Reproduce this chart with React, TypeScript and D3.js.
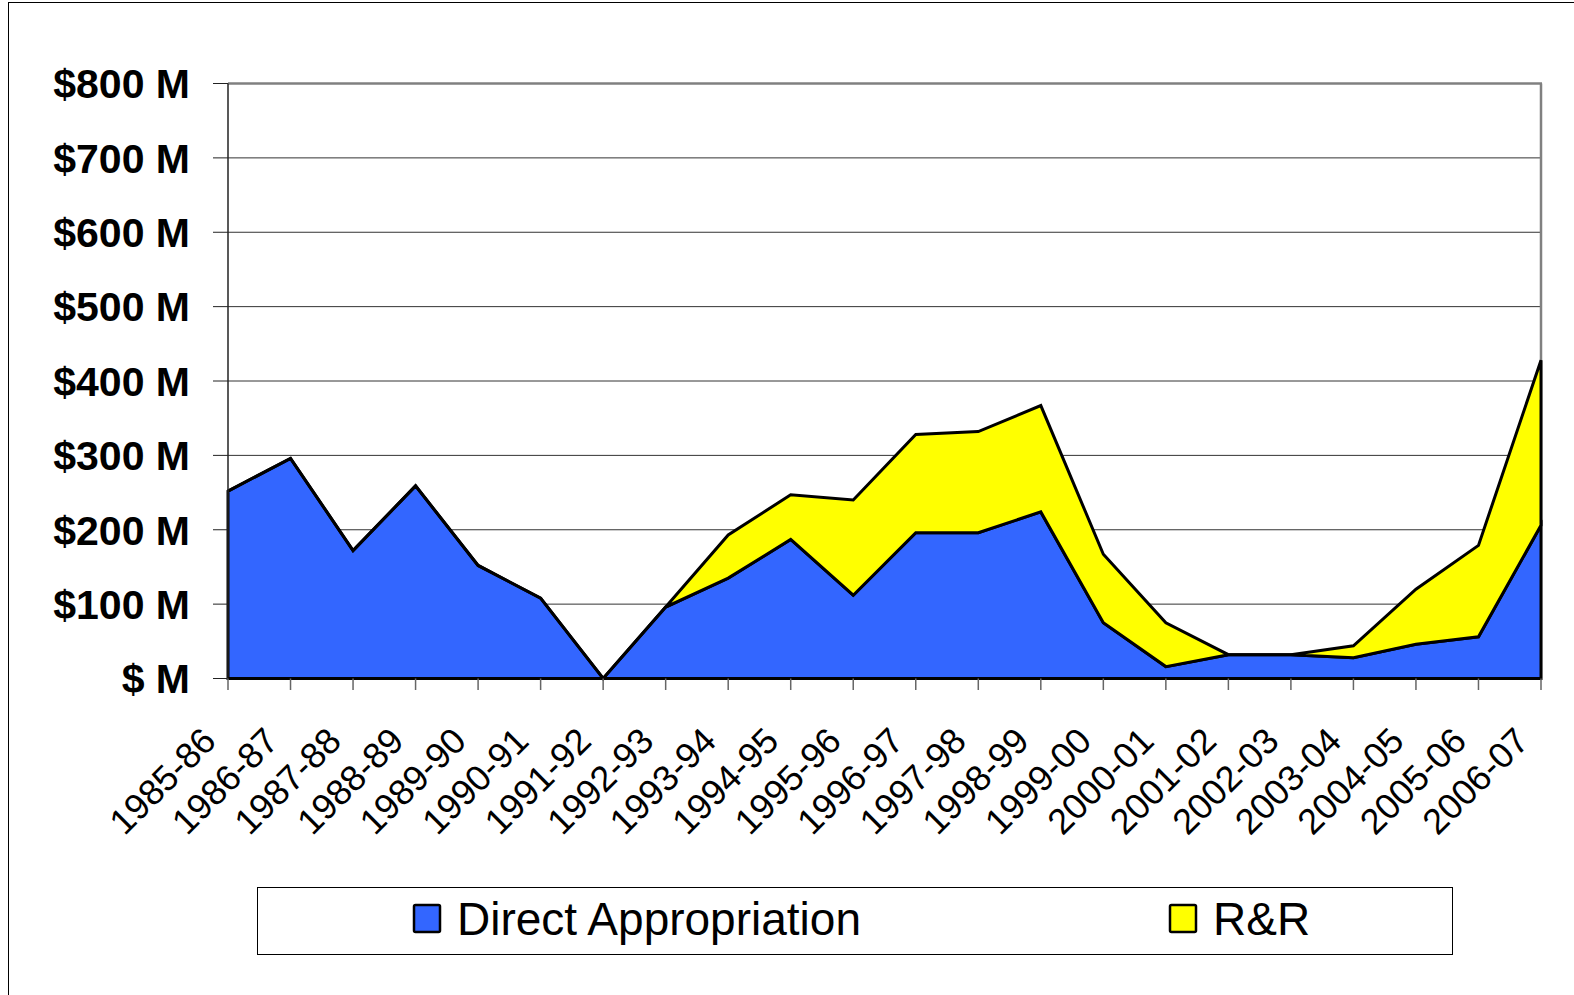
import * as d3 from 'd3'

const categories = [
  '1985-86', '1986-87', '1987-88', '1988-89', '1989-90', '1990-91', '1991-92', '1992-93',
  '1993-94', '1994-95', '1995-96', '1996-97', '1997-98', '1998-99', '1999-00', '2000-01',
  '2001-02', '2002-03', '2003-04', '2004-05', '2005-06', '2006-07',
]
// $ millions
const directAppropriation = [252, 296, 172, 259, 152, 108, 0, 96, 135, 187, 112, 196, 196, 224, 75, 16, 32, 32, 28, 46, 56, 206]
const rAndR = [0, 0, 0, 0, 0, 0, 0, 0, 58, 60, 128, 132, 136, 143, 92, 59, 0, 0, 16, 74, 123, 222]
const yTicks = [0, 100, 200, 300, 400, 500, 600, 700, 800]

const seriesKeys = ['Direct Appropriation', 'R&R']
const seriesColors = ['#3366ff', '#ffff00']

const W = 1574
const H = 995
const plot = { left: 228, right: 1541, top: 83.5, bottom: 678.5 }
const font = '"Liberation Sans", Arial, sans-serif'

export default function App() {
  const x = d3.scalePoint<string>().domain(categories).range([plot.left, plot.right])
  const y = d3.scaleLinear().domain([0, 800]).range([plot.bottom, plot.top])

  const rows = categories.map((c, i) => ({ cat: c, 'Direct Appropriation': directAppropriation[i], 'R&R': rAndR[i] }))
  const stacked = d3.stack<any>().keys(seriesKeys)(rows)

  const area = d3
    .area<any>()
    .x((d) => x(d.data.cat) as number)
    .y0((d) => y(d[0]))
    .y1((d) => y(d[1]))

  const fmt = (v: number) => (v === 0 ? '$ M' : `$${v} M`)

  return (
    <svg width={W} height={H} style={{ position: 'absolute', left: 0, top: 0 }} fontFamily={font}>
      <rect x={0} y={0} width={W} height={H} fill="#fff" />
      {/* outer frame */}
      <line x1={8.5} y1={2} x2={8.5} y2={H} stroke="#000" strokeWidth={1} />
      <line x1={8} y1={2.5} x2={W} y2={2.5} stroke="#000" strokeWidth={1} />

      {/* gridlines */}
      {yTicks.slice(1, -1).map((t) => (
        <line key={t} x1={plot.left} x2={plot.right} y1={y(t)} y2={y(t)} stroke="#333" strokeWidth={1} />
      ))}

      {/* plot border top / right */}
      <line x1={plot.left} x2={plot.right + 1} y1={plot.top} y2={plot.top} stroke="#808080" strokeWidth={2.5} />
      <line x1={plot.right} x2={plot.right} y1={plot.top} y2={plot.bottom} stroke="#808080" strokeWidth={2.5} />

      {/* stacked areas */}
      {stacked.map((s, i) => (
        <path
          key={s.key}
          d={area(s) as string}
          fill={seriesColors[i]}
          stroke="#000"
          strokeWidth={3}
          strokeLinejoin="miter"
        />
      ))}

      {/* y axis */}
      <line x1={plot.left} x2={plot.left} y1={plot.top} y2={plot.bottom} stroke="#222" strokeWidth={1.5} />
      {yTicks.map((t) => (
        <g key={t}>
          <line x1={213} x2={plot.left} y1={y(t)} y2={y(t)} stroke="#222" strokeWidth={1} />
          <text x={190} y={y(t)} dy="0.36em" textAnchor="end" fontSize={41} fontWeight="bold" fill="#000">
            {fmt(t)}
          </text>
        </g>
      ))}

      {/* x axis */}
      <line x1={plot.left} x2={plot.right} y1={plot.bottom} y2={plot.bottom} stroke="#000" strokeWidth={2} />
      {categories.map((c) => {
        const cx = x(c) as number
        return (
          <g key={c}>
            <line x1={cx} x2={cx} y1={plot.bottom} y2={690} stroke="#666" strokeWidth={1.5} />
            <text
              transform={`translate(${cx - 10},743) rotate(-45)`}
              textAnchor="end"
              fontSize={36}
              fill="#000"
            >
              {c}
            </text>
          </g>
        )
      })}

      {/* legend */}
      <rect x={257.5} y={887.5} width={1195} height={67} fill="#fff" stroke="#000" strokeWidth={1} />
      {seriesKeys.map((k, i) => {
        const lx = i === 0 ? 414 : 1170
        return (
          <g key={k}>
            <rect x={lx} y={905} width={26} height={27} fill={seriesColors[i]} stroke="#000" strokeWidth={2.5} rx={1.5} />
            <text x={lx + 43} y={935} fontSize={46} fill="#000">
              {k}
            </text>
          </g>
        )
      })}
    </svg>
  )
}
